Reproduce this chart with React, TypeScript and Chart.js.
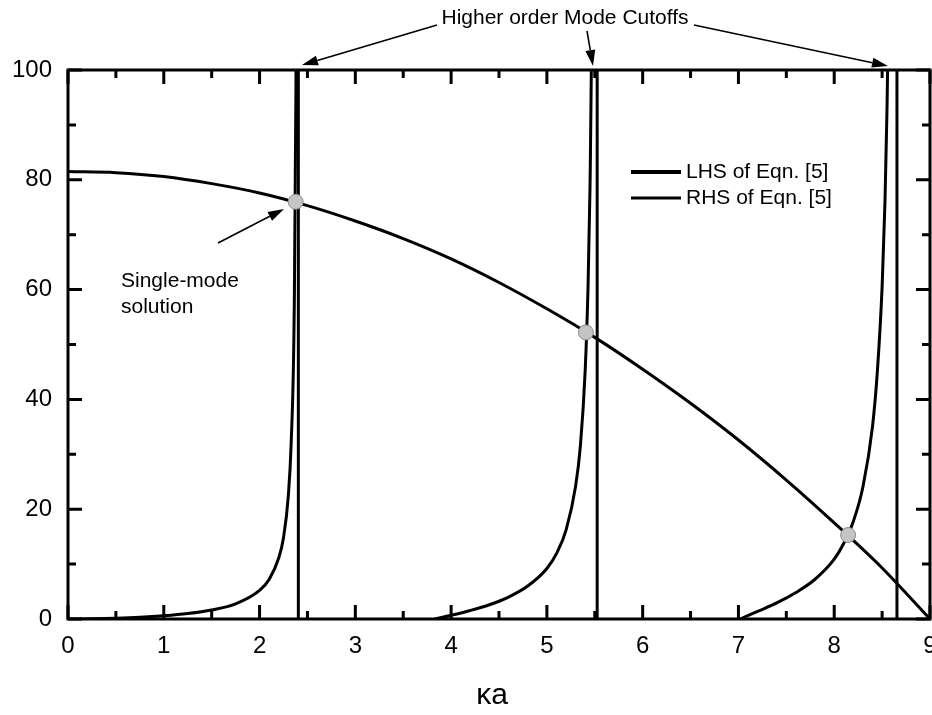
import React, { useEffect, useRef } from "react";
import { Chart, registerables } from "chart.js";

Chart.register(...registerables);

const FONT = '"Liberation Sans", Arial, Helvetica, sans-serif';

// Axis ranges / ticks
const xMin = 0;
const xMax = 9;
const yMin = 0;
const yMax = 100;
const xTickStep = 1;
const yTickStep = 20;

// RHS of Eqn. [5] (decreasing curve)
const rhsX = [0, 0.5, 1, 1.5, 2, 2.5, 3, 3.5, 4, 4.5, 5, 5.5, 6, 6.5, 7, 7.5, 8, 8.5, 9];
const rhsY = [81.5, 81.3, 80.6, 79.3, 77.6, 75.3, 72.5, 69.3, 65.6, 61.3, 56.5, 51.3, 45.5, 39.3, 32.6, 25.3, 17.5, 9.3, 0];

// LHS of Eqn. [5] — three branches
const lhs1X = [0, 0.25, 0.5, 0.75, 1, 1.25, 1.5, 1.75, 2, 2.1, 2.2, 2.25, 2.3, 2.33, 2.36, 2.38, 2.39];
const lhs1Y = [0, 0.03, 0.13, 0.3, 0.58, 0.99, 1.64, 2.75, 5.2, 7.2, 11.1, 14.8, 22.4, 32, 53.5, 97, 160];

const lhs2X = [3.83, 4.0, 4.2, 4.4, 4.6, 4.8, 5.0, 5.1, 5.2, 5.3, 5.35, 5.4, 5.43, 5.45, 5.47, 5.49];
const lhs2Y = [0, 0.67, 1.55, 2.6, 4.0, 6.0, 9.2, 11.9, 16.2, 24.2, 31.6, 45.3, 60.8, 78.5, 110, 180];

const lhs3X = [7.02, 7.2, 7.4, 7.6, 7.8, 8.0, 8.1, 8.2, 8.3, 8.4, 8.45, 8.5, 8.53, 8.55, 8.57, 8.6];
const lhs3Y = [0, 1.39, 2.92, 4.82, 7.24, 10.9, 13.8, 17.8, 24.1, 35.1, 45, 60.5, 76, 92, 115, 177];

// Jumps across the poles (drawn as near-vertical connectors)
const cutoffX = [2.405, 5.525, 8.655];
const cutoffYLow = -10;
const cutoffYHigh = 200;

// Intersection (solution) points
const solX = [2.377, 5.407, 8.145];
const solY = [76, 52.2, 15.3];

const legendLabels = ["LHS of Eqn. [5]", "RHS of Eqn. [5]"];
const annotationTitle = "Higher order Mode Cutoffs";
const singleModeLines = ["Single-mode", "solution"];
const xAxisTitle = "\u03BAa";

function zip(xs: number[], ys: number[]) {
  return xs.map((x, i) => ({ x, y: ys[i] }));
}

function drawArrow(
  ctx: CanvasRenderingContext2D,
  x1: number,
  y1: number,
  x2: number,
  y2: number,
  head = 16,
  half = 5
) {
  const ang = Math.atan2(y2 - y1, x2 - x1);
  const bx = x2 - head * Math.cos(ang);
  const by = y2 - head * Math.sin(ang);
  ctx.save();
  ctx.strokeStyle = "#000";
  ctx.fillStyle = "#000";
  ctx.lineWidth = 1.6;
  ctx.beginPath();
  ctx.moveTo(x1, y1);
  ctx.lineTo(bx, by);
  ctx.stroke();
  ctx.beginPath();
  ctx.moveTo(x2, y2);
  ctx.lineTo(bx + half * Math.sin(ang), by - half * Math.cos(ang));
  ctx.lineTo(bx - half * Math.sin(ang), by + half * Math.cos(ang));
  ctx.closePath();
  ctx.fill();
  ctx.restore();
}

const decorPlugin = {
  id: "decor",
  afterDatasetsDraw(chart: any) {
    const { ctx, chartArea } = chart;
    const { left, right, top, bottom } = chartArea;
    const xs = chart.scales.x;
    const ys = chart.scales.y;
    ctx.save();
    // ticks (inward, all four sides)
    ctx.strokeStyle = "#000";
    ctx.lineWidth = 3;
    ctx.beginPath();
    for (let v = xMin; v <= xMax + 1e-9; v += 0.5) {
      const px = xs.getPixelForValue(v);
      const len = Math.abs(v - Math.round(v)) < 1e-9 ? 14 : 8;
      ctx.moveTo(px, bottom);
      ctx.lineTo(px, bottom - len);
      ctx.moveTo(px, top);
      ctx.lineTo(px, top + len);
    }
    for (let v = yMin; v <= yMax + 1e-9; v += 10) {
      const py = ys.getPixelForValue(v);
      const len = v % 20 === 0 ? 14 : 8;
      ctx.moveTo(left, py);
      ctx.lineTo(left + len, py);
      ctx.moveTo(right, py);
      ctx.lineTo(right - len, py);
    }
    ctx.stroke();
    // frame
    ctx.lineWidth = 3;
    ctx.strokeRect(left, top, right - left, bottom - top);

    // legend
    ctx.fillStyle = "#000";
    ctx.font = `21px ${FONT}`;
    ctx.textBaseline = "middle";
    ctx.textAlign = "left";
    const legY = [172, 198];
    const legW = [4, 3];
    legendLabels.forEach((lab, i) => {
      ctx.lineWidth = legW[i];
      ctx.beginPath();
      ctx.moveTo(631, legY[i]);
      ctx.lineTo(681, legY[i]);
      ctx.stroke();
      ctx.fillText(lab, 686, legY[i]);
    });

    // top annotation
    ctx.font = `21px ${FONT}`;
    ctx.textAlign = "center";
    ctx.textBaseline = "alphabetic";
    ctx.fillText(annotationTitle, 565, 24);
    drawArrow(ctx, 437, 25, 302, 65);
    drawArrow(ctx, 587, 31, 593, 66);
    drawArrow(ctx, 694, 25, 888, 66);

    // single-mode annotation
    ctx.textAlign = "left";
    ctx.fillText(singleModeLines[0], 121, 287);
    ctx.fillText(singleModeLines[1], 121, 313);
    drawArrow(ctx, 218, 243, 284, 209);

    // x axis title
    ctx.font = `30px ${FONT}`;
    ctx.textAlign = "center";
    ctx.fillText(xAxisTitle, 492, 704);
    ctx.restore();
  },
};

export default function App() {
  const ref = useRef<HTMLCanvasElement | null>(null);

  useEffect(() => {
    document.body.style.margin = "0";
    const canvas = ref.current;
    if (!canvas) return;
    const lineDs = (data: { x: number; y: number }[], width = 3) => ({
      data,
      borderColor: "#000",
      borderWidth: width,
      pointRadius: 0,
      showLine: true,
      fill: false,
      tension: 0,
      cubicInterpolationMode: "monotone" as const,
    });
    const datasets: any[] = [
      {
        label: "solutions",
        data: zip(solX, solY),
        showLine: false,
        pointRadius: 7.5,
        pointBackgroundColor: "#c4c4c4",
        pointBorderColor: "#8c8c8c",
        pointBorderWidth: 1,
      },
      lineDs(zip(rhsX, rhsY)),
      lineDs(zip(lhs1X, lhs1Y)),
      lineDs(zip(lhs2X, lhs2Y)),
      lineDs(zip(lhs3X, lhs3Y)),
      ...cutoffX.map((cx) =>
        lineDs(
          [
            { x: cx, y: cutoffYLow },
            { x: cx, y: cutoffYHigh },
          ],
          3
        )
      ),
    ];
    const chart = new Chart(canvas, {
      type: "scatter",
      data: { datasets },
      plugins: [decorPlugin],
      options: {
        animation: false,
        responsive: false,
        devicePixelRatio: 1,
        layout: { autoPadding: false, padding: { top: 70, right: 2, left: 0, bottom: 0 } },
        plugins: {
          legend: { display: false },
          tooltip: { enabled: false },
        },
        scales: {
          x: {
            type: "linear",
            min: xMin,
            max: xMax,
            grid: { display: false, drawTicks: false },
            border: { display: false },
            ticks: {
              stepSize: xTickStep,
              color: "#000",
              font: { family: FONT, size: 24 },
              padding: 13,
              maxRotation: 0,
            },
            afterFit: (s: any) => {
              s.height = 96;
              s.paddingLeft = 0;
              s.paddingRight = 0;
            },
          },
          y: {
            min: yMin,
            max: yMax,
            grid: { display: false, drawTicks: false },
            border: { display: false },
            ticks: {
              stepSize: yTickStep,
              color: "#000",
              font: { family: FONT, size: 24 },
              padding: 16,
            },
            afterFit: (s: any) => {
              s.width = 68;
              s.paddingTop = 0;
              s.paddingBottom = 0;
            },
          },
        },
      },
    });
    return () => chart.destroy();
  }, []);

  return (
    <div style={{ width: 932, height: 715 }}>
      <canvas ref={ref} width={932} height={715} />
    </div>
  );
}
